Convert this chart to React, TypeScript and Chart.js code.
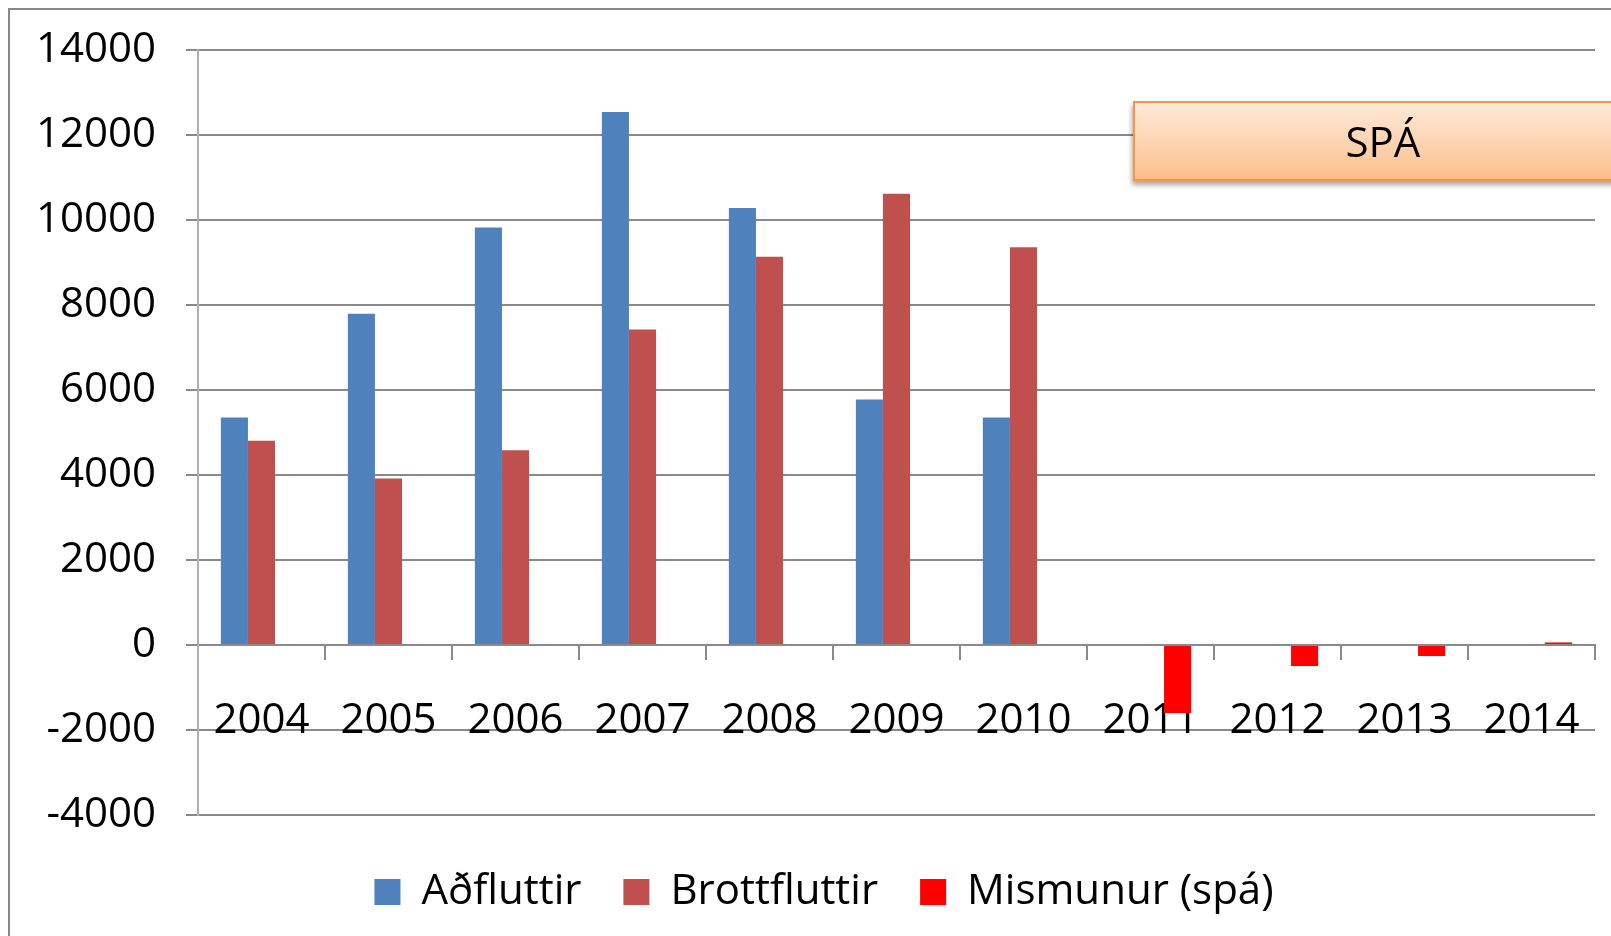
import React, { useEffect, useRef } from "react";
import { Chart, registerables } from "chart.js";

Chart.register(...registerables);

const categories = ["2004", "2005", "2006", "2007", "2008", "2009", "2010", "2011", "2012", "2013", "2014"];
const adfluttir = [5355, 7795, 9825, 12540, 10285, 5775, 5355, null, null, null, null];
const brottfluttir = [4805, 3920, 4580, 7425, 9135, 10615, 9360, null, null, null, null];
const mismunur = [null, null, null, null, null, null, null, -1600, -495, -260, 60];
const seriesNames = ["Aðfluttir", "Brottfluttir", "Mismunur (spá)"];
const yMin = -4000;
const yMax = 14000;
const yStep = 2000;
const boxLabel = "SPÁ";

const FONT = "'Open Sans', 'Noto Sans', sans-serif";

export default function App() {
  const ref = useRef<HTMLCanvasElement | null>(null);

  useEffect(() => {
    if (!ref.current) return;
    const font = { family: FONT, size: 42, lineHeight: 1.2 };
    const chart = new Chart(ref.current, {
      type: "bar",
      data: {
        labels: categories,
        datasets: [
          { label: seriesNames[0], data: adfluttir, backgroundColor: "#4F81BD", borderWidth: 0 },
          { label: seriesNames[1], data: brottfluttir, backgroundColor: "#C0504D", borderWidth: 0 },
          { label: seriesNames[2], data: mismunur, backgroundColor: "#FF0000", borderWidth: 0 },
        ],
      },
      options: {
        responsive: false,
        animation: false,
        devicePixelRatio: 1,
        layout: { padding: { left: 35, top: 50, right: 35, bottom: 13 } },
        datasets: { bar: { barPercentage: 1.0, categoryPercentage: 0.64 } },
        scales: {
          x: {
            type: "category",
            position: { y: 0 } as any,
            offset: true,
            grid: {
              display: true,
              drawOnChartArea: false,
              drawTicks: true,
              tickLength: 14,
              color: "#8a8a8a",
              lineWidth: 2,
              offset: true,
            },
            border: { display: true, color: "#8a8a8a", width: 2 },
            ticks: { font, color: "#000", padding: 37, maxRotation: 0, autoSkip: false },
          },
          y: {
            position: "left",
            min: yMin,
            max: yMax,
            ticks: {
              stepSize: yStep,
              font,
              color: "#000",
              padding: 30,
              callback: (v: any) => String(v),
            },
            grid: { color: "#8a8a8a", lineWidth: 2, tickLength: 12, drawTicks: true },
            border: { display: true, color: "#b0b0b0", width: 2 },
            afterFit: (s: any) => {
              s.width = 163;
              s.paddingTop = 26;
              s.paddingBottom = 26;
            },
          },
          yRight: {
            type: "linear",
            position: "right",
            min: yMin,
            max: yMax,
            grid: { display: false, drawTicks: false },
            border: { display: false },
            ticks: { display: false },
            afterFit: (s: any) => {
              s.width = 18;
              s.paddingTop = 0;
              s.paddingBottom = 0;
            },
          },
        },
        plugins: {
          legend: {
            position: "bottom",
            labels: { boxWidth: 26, boxHeight: 26, padding: 42, font, color: "#000" },
            title: { display: true, text: "", padding: { top: 13, bottom: 0 }, font: { size: 1, lineHeight: 1 } },
          },
          tooltip: { enabled: false },
        },
      },
    } as any);
    return () => chart.destroy();
  }, []);

  return (
    <div style={{ position: "fixed", left: 0, top: 0, width: "100vw", height: "100vh", overflow: "hidden", background: "#fff" }}>
      <canvas ref={ref} width={1648} height={936} style={{ position: "absolute", left: 0, top: 0, display: "block" }} />
      <div
        style={{
          position: "absolute",
          left: 8,
          top: 8,
          width: 3000,
          height: 3000,
          borderLeft: "2px solid #888",
          borderTop: "2px solid #888",
          pointerEvents: "none",
        }}
      />
      <div
        style={{
          position: "absolute",
          left: 1133,
          top: 101,
          width: 496,
          height: 76,
          border: "2px solid #F79646",
          background: "linear-gradient(to bottom, #FEE9D8 0%, #FDD3B0 55%, #FBBE8A 100%)",
          boxShadow: "-1px 4px 5px rgba(0,0,0,0.35)",
          fontFamily: FONT,
          fontSize: 42,
          lineHeight: "76px",
          textAlign: "center",
          color: "#000",
        }}
      >
        {boxLabel}
      </div>
    </div>
  );
}
